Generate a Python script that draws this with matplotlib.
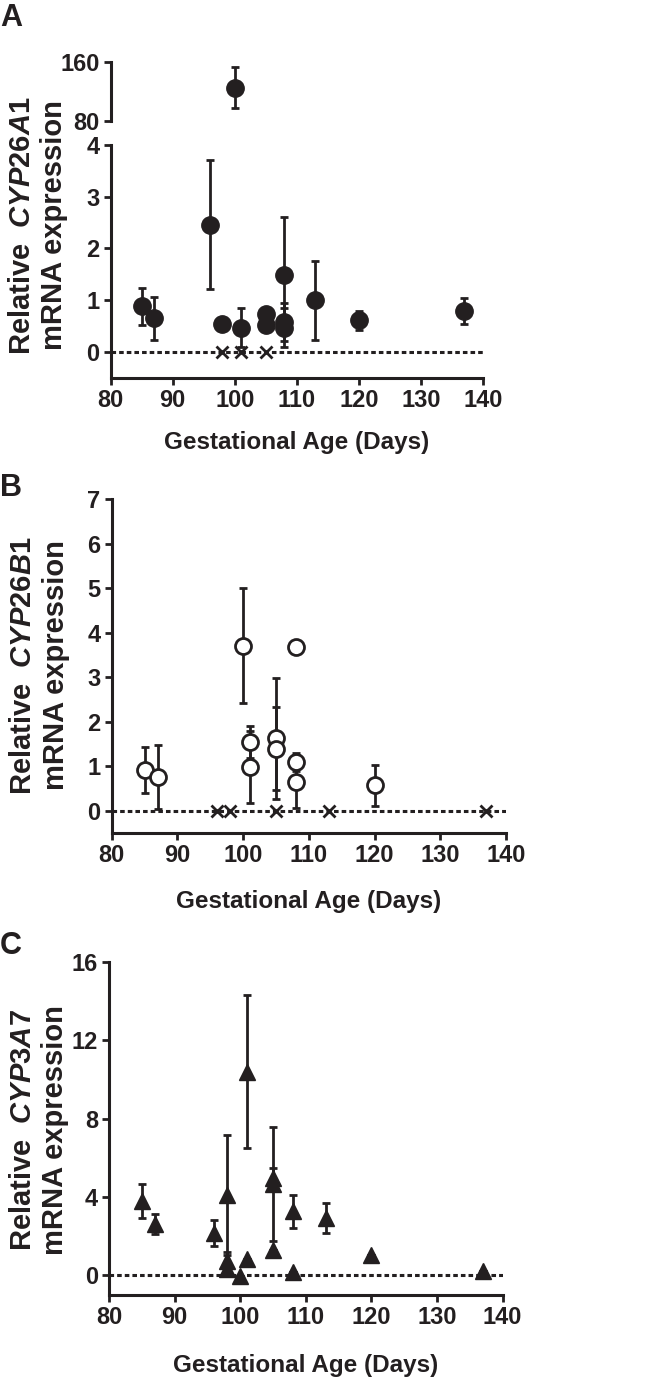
import matplotlib.pyplot as plt

# 数据
ages_a = [85, 87, 96, 98, 101, 105, 105, 108, 108, 108, 113, 120, 137]
cyp26a1 = [0.88, 0.65, 2.46, 0.54, 0.47, 0.74, 0.53, 1.48, 0.58, 0.47, 1.00, 0.61, 0.80]
cyp26a1_err = [0.35, 0.41, 1.24, 0.05, 0.37, 0.08, 0.08, 1.12, 0.36, 0.37, 0.76, 0.18, 0.25]
ages_a_high = [100]
cyp26a1_high = [125]
cyp26a1_high_err = [28]
ages_a_nd = [98, 101, 105]

ages_b = [85, 87, 100, 101, 101, 105, 105, 108, 108, 108, 120]
cyp26b1 = [0.92, 0.76, 3.71, 1.55, 0.99, 1.63, 1.40, 3.68, 1.10, 0.66, 0.58]
cyp26b1_err = [0.51, 0.72, 1.29, 0.36, 0.80, 1.36, 0.93, 0.0, 0.20, 0.59, 0.46]
ages_b_nd = [96, 98, 105, 113, 137]

ages_c = [85, 87, 96, 98, 98, 98, 100, 101, 101, 105, 105, 105, 108, 108, 113, 120, 137]
cyp3a7 = [3.78, 2.62, 2.17, 4.10, 0.75, 0.35, -0.05, 10.4, 0.85, 4.65, 4.95, 1.30, 3.27, 0.15, 2.94, 1.03, 0.22]
cyp3a7_err = [0.87, 0.50, 0.65, 3.05, 0.45, 0.0, 0.0, 3.9, 0.0, 2.9, 0.55, 0.0, 0.83, 0.0, 0.77, 0.0, 0.0]

x_ticks = [80, 90, 100, 110, 120, 130, 140]

# 字体设置
plt.rcParams['font.family'] = ['Liberation Sans', 'DejaVu Sans']
plt.rcParams['font.weight'] = 'bold'
plt.rcParams['mathtext.fontset'] = 'custom'
plt.rcParams['mathtext.it'] = 'Liberation Sans:italic:bold'
plt.rcParams['mathtext.rm'] = 'Liberation Sans:bold'

ink = '#231f20'
tick_font = {'family': 'Liberation Sans', 'weight': 'bold', 'size': 17}

fig = plt.figure(figsize=(6.66, 13.83), dpi=100)


def style_axis(ax, show_x=True):
    for side in ['top', 'right']:
        ax.spines[side].set_visible(False)
    for side in ['left', 'bottom']:
        ax.spines[side].set_linewidth(2.2)
        ax.spines[side].set_color(ink)
    ax.tick_params(length=5, width=2, color=ink, pad=3)
    for lab in ax.get_yticklabels() + ax.get_xticklabels():
        lab.set_fontproperties(tick_font)
        lab.set_color(ink)
    if not show_x:
        ax.spines['bottom'].set_visible(False)
        ax.set_xticks([])


def zero_line(ax):
    ax.axhline(0, color=ink, lw=2.2, linestyle=(0, (1.5, 1.0)), zorder=1)


def errbars(ax, x, y, e):
    ax.errorbar(x, y, yerr=e, fmt='none', ecolor=ink, elinewidth=2,
                capsize=3, capthick=2, zorder=2)


# A: CYP26A1（断轴）
axA_top = fig.add_axes([0.1662, 0.9125, 0.559, 0.04266])
axA = fig.add_axes([0.1662, 0.7267, 0.559, 0.1687])

errbars(axA_top, ages_a_high, cyp26a1_high, cyp26a1_high_err)
axA_top.plot(ages_a_high, cyp26a1_high, 'o', color=ink, ms=12.5, zorder=3, clip_on=False)
axA_top.set_xlim(80, 140)
axA_top.set_ylim(80, 160)
axA_top.set_yticks([80, 160])
style_axis(axA_top, show_x=False)

zero_line(axA)
errbars(axA, ages_a, cyp26a1, cyp26a1_err)
axA.plot(ages_a, cyp26a1, 'o', color=ink, ms=12.5, zorder=3)
axA.plot(ages_a_nd, [0] * len(ages_a_nd), 'x', color=ink, ms=8, mew=2, zorder=3)
axA.set_xlim(80, 140)
axA.set_ylim(-0.5, 4)
axA.set_xticks(x_ticks)
axA.set_yticks([0, 1, 2, 3, 4])
style_axis(axA)

# B: CYP26B1
axB = fig.add_axes([0.1677, 0.3975, 0.592, 0.2417])
zero_line(axB)
errbars(axB, ages_b, cyp26b1, cyp26b1_err)
axB.plot(ages_b, cyp26b1, 'o', mfc='white', mec=ink, mew=2, ms=11.5, zorder=3)
axB.plot(ages_b_nd, [0] * len(ages_b_nd), 'x', color=ink, ms=8, mew=2, zorder=3)
axB.set_xlim(80, 140)
axB.set_ylim(-0.5, 7)
axB.set_xticks(x_ticks)
axB.set_yticks(range(8))
style_axis(axB)

# C: CYP3A7
axC = fig.add_axes([0.1637, 0.0636, 0.591, 0.241])
zero_line(axC)
errbars(axC, ages_c, cyp3a7, cyp3a7_err)
axC.plot(ages_c, cyp3a7, '^', color=ink, ms=12, zorder=3)
axC.set_xlim(80, 140)
axC.set_ylim(-1, 16)
axC.set_xticks(x_ticks)
axC.set_yticks([0, 4, 8, 12, 16])
style_axis(axC)

# 坐标轴标题
ylab = dict(rotation=90, ha='center', va='center', fontsize=21, fontweight='bold',
            color=ink, linespacing=1.2, multialignment='center')
fig.text(0.0575, 0.837, 'Relative  $\\mathit{CYP26A1}$\nmRNA expression', **ylab)
fig.text(0.0595, 0.519, 'Relative  $\\mathit{CYP26B1}$\nmRNA expression', **ylab)
fig.text(0.0585, 0.183, 'Relative  $\\mathit{CYP3A7}$\nmRNA expression', **ylab)

xlab = dict(ha='center', va='center', fontsize=17.5, fontweight='bold', color=ink)
fig.text(297 / 666, 0.6804, 'Gestational Age (Days)', **xlab)
fig.text(309 / 666, 0.3478, 'Gestational Age (Days)', **xlab)
fig.text(306 / 666, 0.0130, 'Gestational Age (Days)', **xlab)

# 子图编号
for letter, ypos in [('A', 1 - 3 / 1383), ('B', 0.6580), ('C', 0.3270)]:
    fig.text(0.0, ypos, letter, ha='left', va='top', fontsize=22, fontweight='bold', color=ink)

fig.savefig('out.png', dpi=100)
